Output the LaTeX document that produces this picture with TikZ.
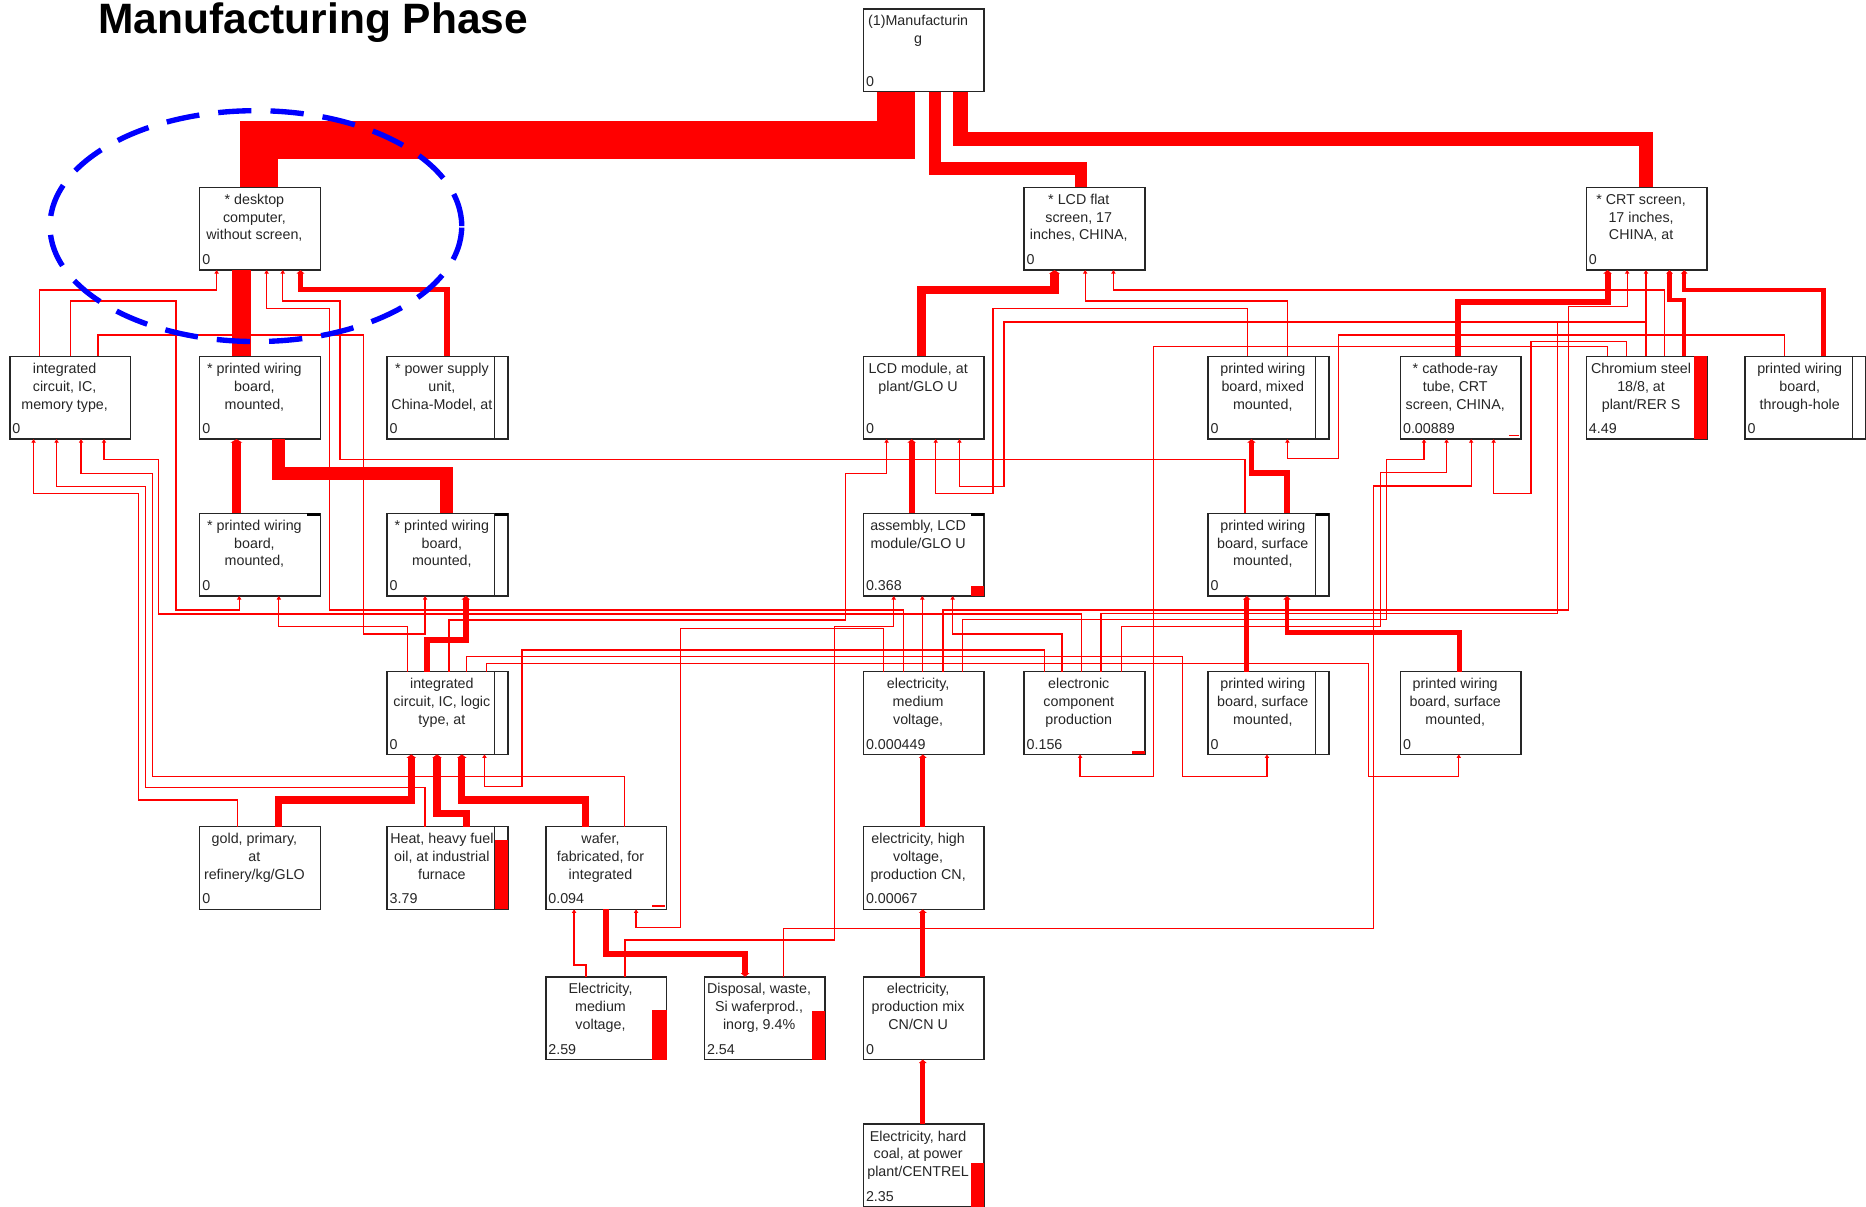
\documentclass[tikz,border=0pt]{standalone}
\usepackage{fontspec}
\setmainfont{Liberation Sans}
\usetikzlibrary{arrows.meta}

\tikzset{
  pbox/.style={draw=black!85, fill=white, line width=1.3pt, minimum width=101.5pt,
    minimum height=69.5pt, inner sep=0pt, outer sep=0pt, anchor=north west},
  ptext/.style={anchor=north, align=center, inner sep=0pt,
    font=\fontsize{12}{15}\selectfont, text=black!85},
  pval/.style={anchor=base west, inner sep=0pt, font=\fontsize{12}{15}\selectfont, text=black!85},
  tlink/.style={draw=red, line width=1.1pt, -{Triangle[length=3pt,width=3.6pt]}},
  tline/.style={draw=red, line width=1.1pt},
  tk/.style n args={2}{draw=red, line width=#1, -{Triangle[length=3pt,width=#2]}},
  band/.style={draw=red, line width=#1},
  ring/.style={draw=blue, line width=4.5pt, dash pattern=on 28pt off 16pt},
  colline/.style={draw=black!85, line width=1pt},
  negmark/.style={draw=black, line width=2.5pt},
}

% process box: name, left, top, description, amount
\newcommand\procbox[5]{%
  \node[pbox] (#1) at (#2,#3) {};
  \node[ptext] (#1-t) at ([xshift=46pt,yshift=-5pt]#1.north west) {\rule{0pt}{9pt}#4};
  \node[pval] (#1-v) at ([xshift=2pt,yshift=4.5pt]#1.south west) {#5};
}

\begin{document}
\begin{tikzpicture}[x=1pt,y=-1pt]
\useasboundingbox (0,0) rectangle (1568,1014);

\node[anchor=base west, inner sep=0pt, font=\bfseries\fontsize{35.7}{42}\selectfont] (title)
  at (82.5,28.5) {Manufacturing Phase};

% ---- process boxes ----
\procbox{manu}{725.5}{7.5}{(1)Manufacturin\\g}{0}
\procbox{desk}{167.8}{157.4}{* desktop\\computer,\\without screen,}{0}
\procbox{lcdf}{860.5}{157.4}{* LCD flat\\screen, 17\\inches, CHINA,}{0}
\procbox{crt}{1333}{157.4}{* CRT screen,\\17 inches,\\CHINA, at}{0}

\procbox{icm}{8.3}{299.5}{integrated\\circuit, IC,\\memory type,}{0}
\procbox{pwa}{167.8}{299.5}{* printed wiring\\board,\\mounted,}{0}
\procbox{psu}{325.3}{299.5}{* power supply\\unit,\\China-Model, at}{0}
\procbox{lcdm}{725.5}{299.5}{LCD module, at\\plant/GLO U}{0}
\procbox{pwmx}{1015.1}{299.5}{printed wiring\\board, mixed\\mounted,}{0}
\procbox{cathode}{1176.8}{299.5}{* cathode-ray\\tube, CRT\\screen, CHINA,}{0.00889}
\procbox{chrom}{1333}{299.5}{Chromium steel\\18/8, at\\plant/RER S}{4.49}
\procbox{pwth}{1466.3}{299.5}{printed wiring\\board,\\through-hole}{0}

\procbox{pwb}{167.8}{431.3}{* printed wiring\\board,\\mounted,}{0}
\procbox{pwc}{325.3}{431.3}{* printed wiring\\board,\\mounted,}{0}
\procbox{asm}{725.5}{431.3}{assembly, LCD\\module/GLO U}{0.368}
\procbox{pwsa}{1015.1}{431.3}{printed wiring\\board, surface\\mounted,}{0}

\procbox{icl}{325.3}{564.4}{integrated\\circuit, IC, logic\\type, at}{0}
\procbox{elm}{725.5}{564.4}{electricity,\\medium\\voltage,}{0.000449}
\procbox{ecp}{860.5}{564.4}{electronic\\component\\production}{0.156}
\procbox{pwsb}{1015.1}{564.4}{printed wiring\\board, surface\\mounted,}{0}
\procbox{pwsc}{1176.8}{564.4}{printed wiring\\board, surface\\mounted,}{0}

\procbox{gold}{167.8}{694.6}{gold, primary,\\at\\refinery/kg/GLO}{0}
\procbox{heat}{325.3}{694.6}{Heat, heavy fuel\\oil, at industrial\\furnace}{3.79}
\procbox{wafer}{458.6}{694.6}{wafer,\\fabricated, for\\integrated}{0.094}
\procbox{elh}{725.5}{694.6}{electricity, high\\voltage,\\production CN,}{0.00067}

\procbox{elmv}{458.6}{820.8}{Electricity,\\medium\\voltage,}{2.59}
\procbox{disp}{591.9}{820.8}{Disposal, waste,\\Si waferprod.,\\inorg, 9.4\%}{2.54}
\procbox{elmix}{725.5}{820.8}{electricity,\\production mix\\CN/CN U}{0}

\procbox{coal}{725.5}{944.6}{Electricity, hard\\coal, at power\\plant/CENTREL}{2.35}

% ---- indicator columns ----
\foreach \b in {psu,pwmx,pwth,pwc,pwsa,icl,pwsb,heat}
  \draw[colline] ([xshift=-11pt]\b.north east) -- ([xshift=-11pt]\b.south east);
\foreach \b in {pwb,pwc,asm,pwsa}
  \draw[negmark] ([xshift=-11pt,yshift=-1.25pt]\b.north east) -- ([yshift=-1.25pt]\b.north east);
\fill[red] ([xshift=-11pt]chrom.north east) rectangle (chrom.south east);
\fill[red] ([xshift=-11pt,yshift=-11pt]heat.north east) rectangle (heat.south east);
\fill[red] ([xshift=-12pt,yshift=-28pt]elmv.north east) rectangle (elmv.south east);
\fill[red] ([xshift=-11.5pt,yshift=-29pt]disp.north east) rectangle (disp.south east);
\fill[red] ([xshift=-11.5pt,yshift=-33pt]coal.north east) rectangle (coal.south east);
\fill[red] ([xshift=-11pt]asm.south east) rectangle ([yshift=8pt]asm.south east);
\fill[red] ([xshift=-11pt]ecp.south east) rectangle ([yshift=3pt]ecp.south east);
\draw[red, line width=1.5pt] ([xshift=-10.5pt,yshift=3pt]cathode.south east) -- ([xshift=-1.5pt,yshift=3pt]cathode.south east);
\draw[red, line width=1.2pt] ([xshift=-12pt,yshift=2.7pt]wafer.south east) -- ([xshift=-1pt,yshift=2.7pt]wafer.south east);

% ---- main flows ----
\draw[band=32pt] (218,0 |- desk.north) -- (218,118) -- (753,118) -- (753,0 |- manu.south);
\draw[band=10.5pt] (908.4,0 |- lcdf.north) -- (908.4,141.5) -- (785.5,141.5) -- (785.5,0 |- manu.south);
\draw[band=12pt] (1383,0 |- crt.north) -- (1383,117) -- (807,117) -- (807,0 |- manu.south);
\draw[band=16pt] (202.7,0 |- pwa.north) -- (202.7,0 |- desk.south);
\draw[band=11pt] (375.5,0 |- pwc.north) -- (375.5,398) -- (234.3,398) -- (234.3,0 |- pwa.south);
\draw[tk={8pt}{10pt}] (198.7,0 |- pwb.north) -- (198.7,0 |- pwa.south);
\draw[tk={4.5pt}{6.5pt}] (375.5,0 |- psu.north) -- (375.5,243) -- (252.5,243) -- (252.5,0 |- desk.south);
\draw[tk={7pt}{9pt}] (774.3,0 |- lcdm.north) -- (774.3,243.7) -- (886.1,243.7) -- (886.1,0 |- lcdf.south);
\draw[tk={5pt}{7pt}] (1225.4,0 |- cathode.north) -- (1225.4,253.5) -- (1350.8,253.5) -- (1350.8,0 |- crt.south);
\draw[tk={3.5pt}{5.5pt}] (1415.2,0 |- chrom.north) -- (1415.2,252.1) -- (1402.9,252.1) -- (1402.9,0 |- crt.south);
\draw[tk={3.5pt}{5.5pt}] (1532.3,0 |- pwth.north) -- (1532.3,243.7) -- (1415.2,243.7) -- (1415.2,0 |- crt.south);
\draw[tk={5pt}{7pt}] (1081.5,0 |- pwsa.north) -- (1081.5,397.7) -- (1051.6,397.7) -- (1051.6,0 |- pwmx.south);
\draw[tk={4pt}{6pt}] (1047.7,0 |- pwsb.north) -- (1047.7,0 |- pwsa.south);
\draw[tk={4pt}{6pt}] (1226.5,0 |- pwsc.north) -- (1226.5,531.6) -- (1081.5,531.6) -- (1081.5,0 |- pwsa.south);
\draw[tk={5pt}{7pt}] (766,0 |- asm.north) -- (766,0 |- lcdm.south);
\draw[tk={5pt}{7pt}] (358.9,0 |- icl.north) -- (358.9,537.8) -- (391.4,537.8) -- (391.4,0 |- pwc.south);
\draw[tk={6pt}{8pt}] (234.3,0 |- gold.north) -- (234.3,672.2) -- (345.6,672.2) -- (345.6,0 |- icl.south);
\draw[tk={6pt}{8pt}] (392.1,0 |- heat.north) -- (392.1,683.4) -- (367.2,683.4) -- (367.2,0 |- icl.south);
\draw[tk={6pt}{8pt}] (491.8,0 |- wafer.north) -- (491.8,672.2) -- (388.1,672.2) -- (388.1,0 |- icl.south);
\draw[tk={5pt}{7pt}] (509.3,0 |- wafer.south) -- (509.3,801.7) -- (626.1,801.7) -- (626.1,0 |- disp.north);
\draw[tk={4.5pt}{6.5pt}] (775.4,0 |- elh.north) -- (775.4,0 |- elm.south);
\draw[tk={4.5pt}{6.5pt}] (775.4,0 |- elmix.north) -- (775.4,0 |- elh.south);
\draw[tk={4.5pt}{6.5pt}] (775.4,0 |- coal.north) -- (775.4,0 |- elmix.south);

% ---- minor flows ----
\draw[tlink] (33,0 |- icm.north) -- (33,243.7) -- (182,243.7) -- (182,0 |- desk.south);
\draw[tlink] (59,0 |- icm.north) -- (59,253) -- (148,253) -- (148,512.6) -- (201,512.6) -- (201,0 |- pwb.south);
\draw[tlink] (82.4,0 |- icm.north) -- (82.4,281.5) -- (305.7,281.5) -- (305.7,532.7) -- (357.2,532.7) -- (357.2,0 |- pwc.south);
\draw[tlink] (759.3,0 |- elm.north) -- (759.3,512.6) -- (277,512.6) -- (277,259.1) -- (224,259.1) -- (224,0 |- desk.south);
\draw[tlink] (1046.2,0 |- pwsa.north) -- (1046.2,386) -- (285.8,386) -- (285.8,252.9) -- (237.6,252.9) -- (237.6,0 |- desk.south);
\draw[tlink] (342.3,0 |- icl.north) -- (342.3,526.6) -- (234.3,526.6) -- (234.3,0 |- pwb.south);
\draw[tlink] (199.4,0 |- gold.north) -- (199.4,672.2) -- (116.3,672.2) -- (116.3,414.5) -- (28.2,414.5) -- (28.2,0 |- icm.south);
\draw[tlink] (357.2,0 |- heat.north) -- (357.2,661.6) -- (122.3,661.6) -- (122.3,408.9) -- (47.5,408.9) -- (47.5,0 |- icm.south);
\draw[tlink] (524.8,0 |- wafer.north) -- (524.8,652.6) -- (127.9,652.6) -- (127.9,397.7) -- (68.1,397.7) -- (68.1,0 |- icm.south);
\draw[tlink] (908.6,0 |- ecp.north) -- (908.6,515.9) -- (132.9,515.9) -- (132.9,386) -- (87.4,386) -- (87.4,0 |- icm.south);
\draw[tlink] (877.4,0 |- ecp.north) -- (877.4,546.2) -- (438.6,546.2) -- (438.6,661) -- (407.1,661) -- (407.1,0 |- icl.south);
\draw[tlink] (392.1,0 |- icl.north) -- (392.1,551.8) -- (993.5,551.8) -- (993.5,652.6) -- (1064.6,652.6) -- (1064.6,0 |- pwsb.south);
\draw[tlink] (408.7,0 |- icl.north) -- (408.7,557.4) -- (1149.8,557.4) -- (1149.8,652.6) -- (1225.8,652.6) -- (1225.8,0 |- pwsc.south);
\draw[tlink] (1350.8,0 |- chrom.north) -- (1350.8,291.3) -- (969.3,291.3) -- (969.3,652.6) -- (907.6,652.6) -- (907.6,0 |- ecp.south);
\draw[tlink] (1081.8,0 |- pwmx.north) -- (1081.8,253) -- (911.9,253) -- (911.9,0 |- lcdf.south);
\draw[tlink] (1398.7,0 |- chrom.north) -- (1398.7,243.7) -- (935.6,243.7) -- (935.6,0 |- lcdf.south);
\draw[tlink] (1048.1,0 |- pwmx.north) -- (1048.1,259.1) -- (834.3,259.1) -- (834.3,414.5) -- (786.3,414.5) -- (786.3,0 |- lcdm.south);
\draw[tlink] (1383.1,0 |- chrom.north) -- (1383.1,270.7) -- (843.7,270.7) -- (843.7,408.9) -- (806.2,408.9) -- (806.2,0 |- lcdm.south);
\draw[tlink] (1383.1,0 |- chrom.north) -- (1383.1,0 |- crt.south);
\draw[tlink] (1499.4,0 |- pwth.north) -- (1499.4,281.5) -- (1124.7,281.5) -- (1124.7,385.4) -- (1081.8,385.4) -- (1081.8,0 |- pwmx.south);
\draw[tlink] (1366.6,0 |- chrom.north) -- (1366.6,287.1) -- (1286.4,287.1) -- (1286.4,414.6) -- (1255.1,414.6) -- (1255.1,0 |- cathode.south);
\draw[tlink] (792.3,0 |- elm.north) -- (792.3,512.6) -- (1317.8,512.6) -- (1317.8,257.7) -- (1367.3,257.7) -- (1367.3,0 |- crt.south);
\draw[tlink] (808.8,0 |- elm.north) -- (808.8,520.4) -- (1165,520.4) -- (1165,386) -- (1196.6,386) -- (1196.6,0 |- cathode.south);
\draw[tlink] (942.3,0 |- ecp.north) -- (942.3,526.6) -- (1160.3,526.6) -- (1160.3,397.2) -- (1215.5,397.2) -- (1215.5,0 |- cathode.south);
\draw[tline] (925.1,0 |- ecp.north) -- (925.1,515.4) -- (1309,515.4) -- (1309,270.7) -- (1383.1,270.7) -- (1383.1,0 |- chrom.north);
\draw[tlink] (658.3,0 |- disp.north) -- (658.3,780.1) -- (1154.4,780.1) -- (1154.4,408.4) -- (1236.2,408.4) -- (1236.2,0 |- cathode.south);
\draw[tlink] (377.2,0 |- icl.north) -- (377.2,521) -- (710.5,521) -- (710.5,397.7) -- (745,397.7) -- (745,0 |- lcdm.south);
\draw[tlink] (775,0 |- elm.north) -- (775,0 |- asm.south);
\draw[tlink] (742.4,0 |- elm.north) -- (742.4,528) -- (571.7,528) -- (571.7,779.6) -- (534.5,779.6) -- (534.5,0 |- wafer.south);
\draw[tlink] (525.2,0 |- elmv.north) -- (525.2,790) -- (701.1,790) -- (701.1,526.6) -- (751,526.6) -- (751,0 |- asm.south);
\draw[tlink] (892.4,0 |- ecp.north) -- (892.4,532.7) -- (800.5,532.7) -- (800.5,0 |- asm.south);
\draw[tlink] (492.5,0 |- elmv.north) -- (492.5,811) -- (482.4,811) -- (482.4,0 |- wafer.south);

% ---- highlight around the desktop computer ----
\draw[ring] (215,190) ellipse [x radius=173pt, y radius=97pt];

\end{tikzpicture}
\end{document}
